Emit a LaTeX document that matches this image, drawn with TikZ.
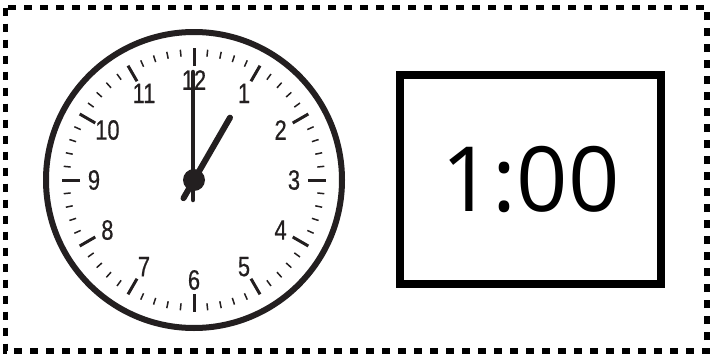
\documentclass[tikz,border=0pt]{standalone}
\usepackage{fontspec}
\setmainfont{Liberation Sans}
\newfontfamily\clockfont[FakeStretch=0.78,FakeBold=0.6]{Liberation Sans}
\newfontfamily\digitalfont{Open Sans}
\usetikzlibrary{calc}
\definecolor{ink}{HTML}{231F20}
\tikzset{
  minortick/.style={draw=ink, line width=1.5pt},
  majortick/.style={draw=ink, line width=3pt},
  numlabel/.style={text=ink, inner sep=0pt, font=\clockfont\fontsize{28}{28}\selectfont},
  hand/.style={draw=ink, line cap=round},
}
\begin{document}
\begin{tikzpicture}[x=1pt,y=-1pt]
\useasboundingbox (0,0) rectangle (710,356);
% dashed frame
\draw[black, line width=5.5pt, dash pattern=on 8pt off 8pt] (5.5,7.5) rectangle (707,351);
% clock face
\coordinate (c) at (194,180);
\draw[ink, line width=6pt] (c) circle[radius=148pt];
\foreach \a in {0,6,...,354}{
  \pgfmathtruncatemacro\m{mod(\a,30)}
  \ifnum\m=0
    \draw[majortick] ($(c)+(\a:114)$) -- ($(c)+(\a:132)$);
  \else
    \draw[minortick] ($(c)+(\a:124)$) -- ($(c)+(\a:131)$);
  \fi
}
\foreach \n in {1,...,12}{
  \pgfmathsetmacro\ang{-90+30*\n}
  \node[numlabel] (n\n) at ($(c)+(\ang:100)$) {\n};
}
% hands
\coordinate (mtip) at (193,72);
\coordinate (mtail) at (193,200);
\coordinate (htip) at ($(c)+(-60:72)$);
\coordinate (htail) at ($(c)+(120:21)$);
\draw[hand, line width=4.5pt] (mtail) -- (mtip);
\draw[hand, line width=6pt] (htail) -- (htip);
\fill[ink] (c) circle[radius=11pt];
% digital display
\node[draw=black, line width=8pt, minimum width=261pt, minimum height=209pt, inner sep=0pt,
      font=\digitalfont\fontsize{90}{90}\selectfont] (digital) at (530.5,179.5) {1:00};
\end{tikzpicture}
\end{document}
